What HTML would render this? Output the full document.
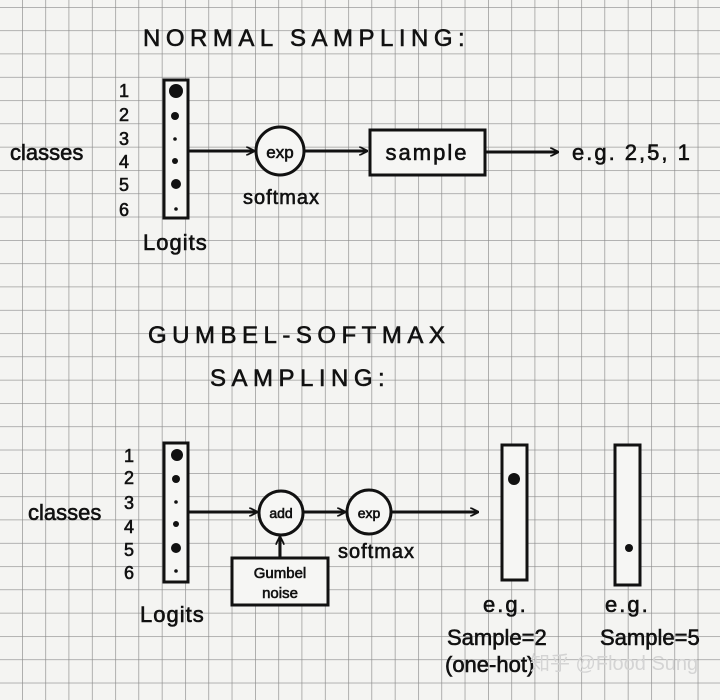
<!DOCTYPE html>
<html><head><meta charset="utf-8"><style>
html,body{margin:0;padding:0;background:#f3f3f1;}
svg{display:block}
text{font-family:"Liberation Sans","Noto Sans CJK SC",sans-serif;fill:#111;stroke:#111;stroke-width:0.6;}
</style></head><body>
<svg width="720" height="700" viewBox="0 0 720 700" xmlns="http://www.w3.org/2000/svg">
<defs>
<pattern id="g" x="22" y="7" width="23.3" height="23.3" patternUnits="userSpaceOnUse">
<path d="M0 0H23.3M0 0V23.3" stroke="#8a8a8a" stroke-width="1.3" fill="none"/>
</pattern>
<marker id="a" viewBox="0 0 10 10" refX="9" refY="5" markerWidth="9" markerHeight="9" orient="auto" markerUnits="userSpaceOnUse"><path d="M0 0L10 5L0 10" fill="none" stroke="#111" stroke-width="2"/></marker>
</defs>
<rect width="720" height="700" fill="#f4f4f2"/>
<rect width="720" height="700" fill="url(#g)"/>
<g stroke="#111" stroke-width="3" fill="none">
<rect x="164" y="80" width="24" height="138" fill="#f6f6f4"/>
<line x1="188" y1="151" x2="254" y2="151" marker-end="url(#a)"/>
<circle cx="280" cy="151" r="24" fill="#f6f6f4"/>
<line x1="304" y1="151" x2="367" y2="151" marker-end="url(#a)"/>
<rect x="370" y="130" width="115" height="45" fill="#f6f6f4"/>
<line x1="485" y1="152" x2="558" y2="152" marker-end="url(#a)"/>
<rect x="164" y="443" width="24" height="139" fill="#f6f6f4"/>
<line x1="188" y1="512" x2="257" y2="512" marker-end="url(#a)"/>
<circle cx="281" cy="513" r="22" fill="#f6f6f4"/>
<line x1="303" y1="512" x2="345" y2="512" marker-end="url(#a)"/>
<circle cx="369" cy="512" r="22" fill="#f6f6f4"/>
<line x1="391" y1="512" x2="478" y2="512" marker-end="url(#a)"/>
<rect x="232" y="558" width="96" height="47" fill="#f6f6f4"/>
<line x1="280" y1="558" x2="280" y2="537" marker-end="url(#a)"/>
<rect x="502" y="445" width="25" height="135" fill="#f6f6f4"/>
<rect x="615" y="445" width="25" height="140" fill="#f6f6f4"/>
</g>
<g fill="#111">
<circle cx="176" cy="91" r="7"/><circle cx="175" cy="116" r="4"/><circle cx="175" cy="139" r="1.8"/>
<circle cx="175" cy="161" r="3"/><circle cx="176" cy="184" r="5"/><circle cx="176" cy="209" r="1.8"/>
<circle cx="177" cy="455" r="6"/><circle cx="176" cy="479" r="4"/><circle cx="176" cy="502" r="1.8"/>
<circle cx="176" cy="524" r="3"/><circle cx="176" cy="548" r="5"/><circle cx="176" cy="571" r="1.8"/>
<circle cx="514" cy="479" r="6"/><circle cx="629" cy="548" r="4"/>
</g>
<g font-size="22">
<text x="143" y="46" letter-spacing="5.5" font-size="24">NORMAL SAMPLING:</text>
<text x="10" y="160">classes</text>
<text x="243" y="204" font-size="20" letter-spacing="1">softmax</text>
<text x="143" y="250" letter-spacing="1">Logits</text>
<text x="572" y="160" letter-spacing="2">e.g. 2,5, 1</text>
<text x="148" y="343" letter-spacing="5.5" font-size="24">GUMBEL-SOFTMAX</text>
<text x="210" y="386" letter-spacing="5.5" font-size="24">SAMPLING:</text>
<text x="28" y="520">classes</text>
<text x="338" y="558" font-size="20" letter-spacing="1">softmax</text>
<text x="140" y="622" letter-spacing="1">Logits</text>
<text x="483" y="612" letter-spacing="2">e.g.</text>
<text x="447" y="645">Sample=2</text>
<text x="445" y="672">(one-hot)</text>
<text x="605" y="612" letter-spacing="2">e.g.</text>
<text x="600" y="645">Sample=5</text>
</g>
<g font-size="18" text-anchor="middle">
<text x="124" y="97">1</text><text x="124" y="121">2</text><text x="124" y="145">3</text>
<text x="124" y="168">4</text><text x="124" y="191">5</text><text x="124" y="216">6</text>
<text x="129" y="462">1</text><text x="129" y="484">2</text><text x="129" y="509">3</text>
<text x="129" y="533">4</text><text x="129" y="556">5</text><text x="129" y="579">6</text>
<text x="280" y="158" font-size="17">exp</text>
<text x="427" y="160" font-size="22" letter-spacing="2">sample</text>
<text x="281" y="518" font-size="14">add</text>
<text x="369" y="518" font-size="14">exp</text>
<text x="280" y="578" font-size="15">Gumbel</text>
<text x="280" y="598" font-size="15">noise</text>
</g>
<text x="530" y="670" font-size="20" style="fill:#d4d4d4;stroke:none">知乎 @Flood Sung</text>
</svg>
</body></html>
